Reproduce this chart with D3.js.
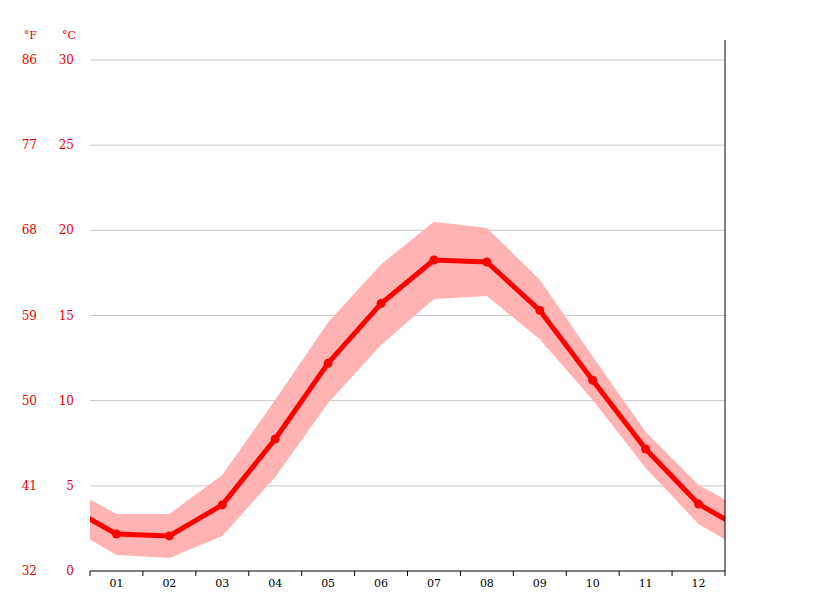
<!DOCTYPE html><html><head><meta charset="utf-8"><script src="https://cdn.jsdelivr.net/npm/d3@7"></script>
<style>body{margin:0;background:#fff}text{font-family:"DejaVu Serif",serif}</style></head><body><svg id="c" width="815" height="611"></svg>
<script>
const months=["01","02","03","04","05","06","07","08","09","10","11","12"];
const avgTemp=[2.17,2.06,3.88,7.75,12.2,15.7,18.26,18.14,15.3,11.2,7.16,3.93];
const maxTemp=[3.35,3.35,5.64,10.04,14.6,18.0,20.5,20.14,17.1,12.6,8.16,5.05];
const minTemp=[0.94,0.76,2.06,5.52,9.86,13.27,15.97,16.15,13.6,10.04,6.05,2.76];
const cTicks=[0,5,10,15,20,25,30];
const fTicks=[32,41,50,59,68,77,86];
const svg=d3.select("#c");
const L=90,R=725,T=40,B=571;
const x=d3.scaleLinear().domain([0,12]).range([L,R]);
const y=d3.scaleLinear().domain([0,30]).range([B,60]);
// wrap Dec before and Jan after
const idx=d3.range(-1,13);
const w=a=>idx.map(i=>({i,v:a[(i+12)%12]}));
svg.append("clipPath").attr("id","cl").append("rect").attr("x",L).attr("y",0).attr("width",R-L).attr("height",B);
const g=svg.append("g");
cTicks.forEach((t,k)=>{
 if(t>0)g.append("line").attr("x1",L).attr("x2",R).attr("y1",y(t)).attr("y2",y(t)).attr("stroke","#c8c8c8");
 g.append("text").attr("x",74).attr("y",y(t)+4).attr("text-anchor","end").attr("fill","#e00").attr("font-size",12).text(t);
 g.append("text").attr("x",37).attr("y",y(t)+4).attr("text-anchor","end").attr("fill","#e00").attr("font-size",12).text(fTicks[k]);
});
g.append("text").attr("x",37).attr("y",39).attr("text-anchor","end").attr("fill","#e00").attr("font-size",11).text("°F");
g.append("text").attr("x",76).attr("y",39).attr("text-anchor","end").attr("fill","#e00").attr("font-size",11).text("°C");
const band=w(maxTemp).map((d,k)=>({i:d.i,hi:d.v,lo:w(minTemp)[k].v}));
const pg=svg.append("g").attr("clip-path","url(#cl)");
pg.append("path").datum(band).attr("fill","#ffb3b3")
 .attr("d",d3.area().x(d=>x(d.i+0.5)).y0(d=>y(d.lo)).y1(d=>y(d.hi)));
pg.append("path").datum(w(avgTemp)).attr("fill","none").attr("stroke","#f00").attr("stroke-width",5).attr("stroke-linejoin","round")
 .attr("d",d3.line().x(d=>x(d.i+0.5)).y(d=>y(d.v)));
svg.selectAll("circle").data(avgTemp).join("circle").attr("cx",(d,i)=>x(i+0.5)).attr("cy",d=>y(d)).attr("r",4.5).attr("fill","#f00");
svg.append("line").attr("x1",L).attr("x2",R).attr("y1",B).attr("y2",B).attr("stroke","#000");
svg.append("line").attr("x1",R).attr("x2",R).attr("y1",T).attr("y2",B).attr("stroke","#000");
d3.range(0,13).forEach(i=>svg.append("line").attr("x1",x(i)).attr("x2",x(i)).attr("y1",B).attr("y2",B+5).attr("stroke","#000"));
months.forEach((m,i)=>svg.append("text").attr("x",x(i+0.5)).attr("y",B+16).attr("text-anchor","middle").attr("font-size",11).attr("fill","#000").text(m));
</script></body></html>
